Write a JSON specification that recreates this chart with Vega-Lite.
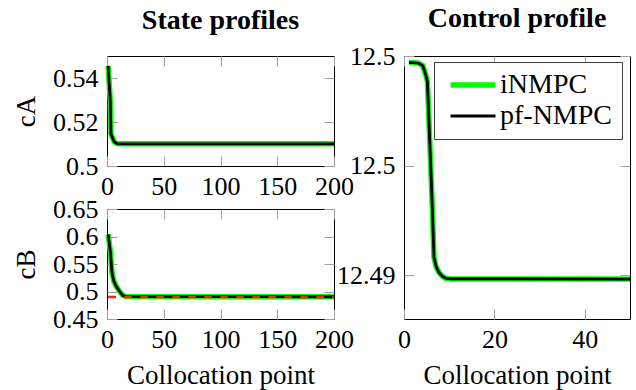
{
  "$schema": "https://vega.github.io/schema/vega-lite/v6.json",
  "background": "white",
  "padding": {"left": 12, "top": 4, "right": 5, "bottom": 5},
  "datasets": {
    "cA": [
      {"x": 1, "iNMPC": 0.5455, "pfNMPC": 0.5455},
      {"x": 2.9, "iNMPC": 0.5295, "pfNMPC": 0.5295},
      {"x": 3.5, "iNMPC": 0.5145, "pfNMPC": 0.5145},
      {"x": 5, "iNMPC": 0.5126, "pfNMPC": 0.5126},
      {"x": 6.4, "iNMPC": 0.511, "pfNMPC": 0.511},
      {"x": 8, "iNMPC": 0.5104, "pfNMPC": 0.5104},
      {"x": 9.5, "iNMPC": 0.5101, "pfNMPC": 0.5101},
      {"x": 200, "iNMPC": 0.5101, "pfNMPC": 0.5101}
    ],
    "cB": [
      {"x": 1, "iNMPC": 0.604, "pfNMPC": 0.604},
      {"x": 2.9, "iNMPC": 0.5736, "pfNMPC": 0.5736},
      {"x": 4.4, "iNMPC": 0.534, "pfNMPC": 0.534},
      {"x": 6, "iNMPC": 0.519, "pfNMPC": 0.519},
      {"x": 8, "iNMPC": 0.51, "pfNMPC": 0.51},
      {"x": 10.8, "iNMPC": 0.5009, "pfNMPC": 0.5009},
      {"x": 13.8, "iNMPC": 0.4932, "pfNMPC": 0.4932},
      {"x": 16.7, "iNMPC": 0.4907, "pfNMPC": 0.4907},
      {"x": 200, "iNMPC": 0.4905, "pfNMPC": 0.4905}
    ],
    "cBset": [
      {"x": 1, "setpoint": 0.49},
      {"x": 200, "setpoint": 0.49}
    ],
    "ctrl": [
      {"x": 1.1, "iNMPC": 12.4997, "pfNMPC": 12.4997},
      {"x": 2.15, "iNMPC": 12.4997, "pfNMPC": 12.4997},
      {"x": 3.25, "iNMPC": 12.49967, "pfNMPC": 12.49967},
      {"x": 4.14, "iNMPC": 12.49956, "pfNMPC": 12.49956},
      {"x": 4.8, "iNMPC": 12.49915, "pfNMPC": 12.49915},
      {"x": 5.18, "iNMPC": 12.49883, "pfNMPC": 12.49883},
      {"x": 6.13, "iNMPC": 12.49383, "pfNMPC": 12.49383},
      {"x": 6.64, "iNMPC": 12.4908, "pfNMPC": 12.4908},
      {"x": 7.12, "iNMPC": 12.49038, "pfNMPC": 12.49038},
      {"x": 7.74, "iNMPC": 12.49012, "pfNMPC": 12.49012},
      {"x": 8.45, "iNMPC": 12.48995, "pfNMPC": 12.48995},
      {"x": 9.23, "iNMPC": 12.48986, "pfNMPC": 12.48986},
      {"x": 10.33, "iNMPC": 12.48983, "pfNMPC": 12.48983},
      {"x": 50, "iNMPC": 12.48982, "pfNMPC": 12.48982}
    ]
  },
  "config": {
    "font": "Liberation Serif, DejaVu Serif, serif",
    "view": {"stroke": "#000000", "strokeWidth": 1},
    "axis": {
      "domain": false,
      "grid": false,
      "ticks": true,
      "tickColor": "#a0a0a0",
      "tickSize": -10,
      "tickWidth": 1,
      "labelFlush": false,
      "labelOverlap": false
    },
    "axisX": {
      "labelFont": "Liberation Serif, DejaVu Serif, serif",
      "labelFontSize": 26,
      "labelColor": "#000000",
      "labelPadding": 17,
      "titleFont": "Liberation Serif, DejaVu Serif, serif",
      "titleFontSize": 27,
      "titleFontWeight": "normal",
      "titleColor": "#000000",
      "titlePadding": 10
    },
    "axisY": {
      "labelFont": "Liberation Serif, DejaVu Serif, serif",
      "labelFontSize": 26,
      "labelColor": "#000000",
      "labelPadding": 19,
      "titleFont": "Liberation Serif, DejaVu Serif, serif",
      "titleFontSize": 27,
      "titleFontWeight": "normal",
      "titleColor": "#000000",
      "titlePadding": 12
    },
    "style": {
      "guide-label": {"font": "Liberation Serif, DejaVu Serif, serif"},
      "guide-title": {"font": "Liberation Serif, DejaVu Serif, serif"}
    },
    "title": {
      "font": "Liberation Serif, DejaVu Serif, serif",
      "fontSize": 28,
      "fontWeight": "bold",
      "color": "#000000",
      "anchor": "middle",
      "baseline": "alphabetic"
    },
    "legend": {
      "labelFont": "Liberation Serif, DejaVu Serif, serif",
      "labelFontSize": 28,
      "labelColor": "#000000"
    }
  },
  "resolve": {"scale": {"color": "independent"}, "legend": {"color": "independent"}},
  "spacing": -18,
  "hconcat": [
    {
      "spacing": 43,
      "bounds": "flush",
      "vconcat": [
        {
          "width": 227,
          "height": 110,
          "title": {"text": "State profiles", "offset": 20},
          "data": {"name": "cA"},
          "layer": [
            {
              "mark": {"type": "line", "color": "#00ff00", "strokeWidth": 5.5},
              "encoding": {
                "x": {"field": "x", "type": "quantitative", "scale": {"domain": [0, 200], "nice": false}, "axis": {"values": [0, 50, 100, 150, 200], "title": null}},
                "y": {"field": "iNMPC", "type": "quantitative", "scale": {"domain": [0.5, 0.55], "nice": false, "zero": false}, "axis": {"values": [0.5, 0.52, 0.54], "format": "~g", "title": "cA"}}
              }
            },
            {
              "mark": {"type": "line", "color": "#000000", "strokeWidth": 2.8},
              "encoding": {
                "x": {"field": "x", "type": "quantitative", "scale": {"domain": [0, 200], "nice": false}, "axis": {"orient": "top", "values": [0, 50, 100, 150, 200], "labels": false, "title": null}},
                "y": {"field": "pfNMPC", "type": "quantitative", "scale": {"domain": [0.5, 0.55], "nice": false, "zero": false}, "axis": {"orient": "right", "values": [0.5, 0.52, 0.54], "labels": false, "title": null}}
              }
            }
          ],
          "resolve": {"axis": {"x": "independent", "y": "independent"}}
        },
        {
          "width": 227,
          "height": 110,
          "layer": [
            {
              "data": {"name": "cB"},
              "mark": {"type": "line", "color": "#00ff00", "strokeWidth": 5.5},
              "encoding": {
                "x": {"field": "x", "type": "quantitative", "scale": {"domain": [0, 200], "nice": false}, "axis": {"values": [0, 50, 100, 150, 200], "title": "Collocation point"}},
                "y": {"field": "iNMPC", "type": "quantitative", "scale": {"domain": [0.45, 0.65], "nice": false, "zero": false}, "axis": {"values": [0.45, 0.5, 0.55, 0.6, 0.65], "format": "~g", "title": "cB"}}
              }
            },
            {
              "data": {"name": "cB"},
              "mark": {"type": "line", "color": "#000000", "strokeWidth": 2.8},
              "encoding": {
                "x": {"field": "x", "type": "quantitative", "scale": {"domain": [0, 200], "nice": false}, "axis": {"orient": "top", "values": [0, 50, 100, 150, 200], "labels": false, "title": null}},
                "y": {"field": "pfNMPC", "type": "quantitative", "scale": {"domain": [0.45, 0.65], "nice": false, "zero": false}, "axis": {"orient": "right", "values": [0.45, 0.5, 0.55, 0.6, 0.65], "labels": false, "title": null}}
              }
            },
            {
              "data": {"name": "cBset"},
              "mark": {"type": "line", "color": "#ff2200", "strokeWidth": 2.5, "strokeDash": [8, 8]},
              "encoding": {
                "x": {"field": "x", "type": "quantitative", "scale": {"domain": [0, 200], "nice": false}, "axis": null},
                "y": {"field": "setpoint", "type": "quantitative", "scale": {"domain": [0.45, 0.65], "nice": false, "zero": false}, "axis": null}
              }
            }
          ],
          "resolve": {"axis": {"x": "independent", "y": "independent"}}
        }
      ]
    },
    {
      "width": 226,
      "height": 263,
      "title": {"text": "Control profile", "offset": 10},
      "data": {"name": "ctrl"},
      "layer": [
        {
          "mark": {"type": "line", "strokeWidth": 5.5},
          "encoding": {
            "x": {"field": "x", "type": "quantitative", "scale": {"domain": [0, 50], "nice": false}, "axis": {"values": [0, 20, 40], "title": "Collocation point"}},
            "y": {"field": "iNMPC", "type": "quantitative", "scale": {"domain": [12.488, 12.5], "nice": false, "zero": false}, "axis": {"values": [12.49, 12.495, 12.5], "labelExpr": "datum.value > 12.492 ? '12.5' : '12.49'", "title": null}},
            "color": {
              "datum": "iNMPC",
              "type": "nominal",
              "scale": {"domain": ["iNMPC", "pf-NMPC"], "range": ["#00ff00", "#000000"]},
              "legend": {
                "title": null,
                "orient": "none",
                "legendX": 30,
                "legendY": 6,
                "padding": 9,
                "fillColor": "#ffffff",
                "strokeColor": "#404040",
                "symbolType": "M-2,0H2",
                "symbolSize": 506,
                "symbolOffset": 16,
                "labelOffset": 13,
                "rowPadding": 3,
                "encode": {"symbols": {"update": {"strokeWidth": {"signal": "datum.value === 'iNMPC' ? 5.5 : 2.8"}}}}
              }
            }
          }
        },
        {
          "mark": {"type": "line", "strokeWidth": 2.8},
          "encoding": {
            "x": {"field": "x", "type": "quantitative", "scale": {"domain": [0, 50], "nice": false}, "axis": {"orient": "top", "values": [0, 20, 40], "labels": false, "title": null}},
            "y": {"field": "pfNMPC", "type": "quantitative", "scale": {"domain": [12.488, 12.5], "nice": false, "zero": false}, "axis": {"orient": "right", "values": [12.49, 12.495, 12.5], "labels": false, "title": null}},
            "color": {"datum": "pf-NMPC", "type": "nominal"}
          }
        }
      ],
      "resolve": {"axis": {"x": "independent", "y": "independent"}}
    }
  ]
}
